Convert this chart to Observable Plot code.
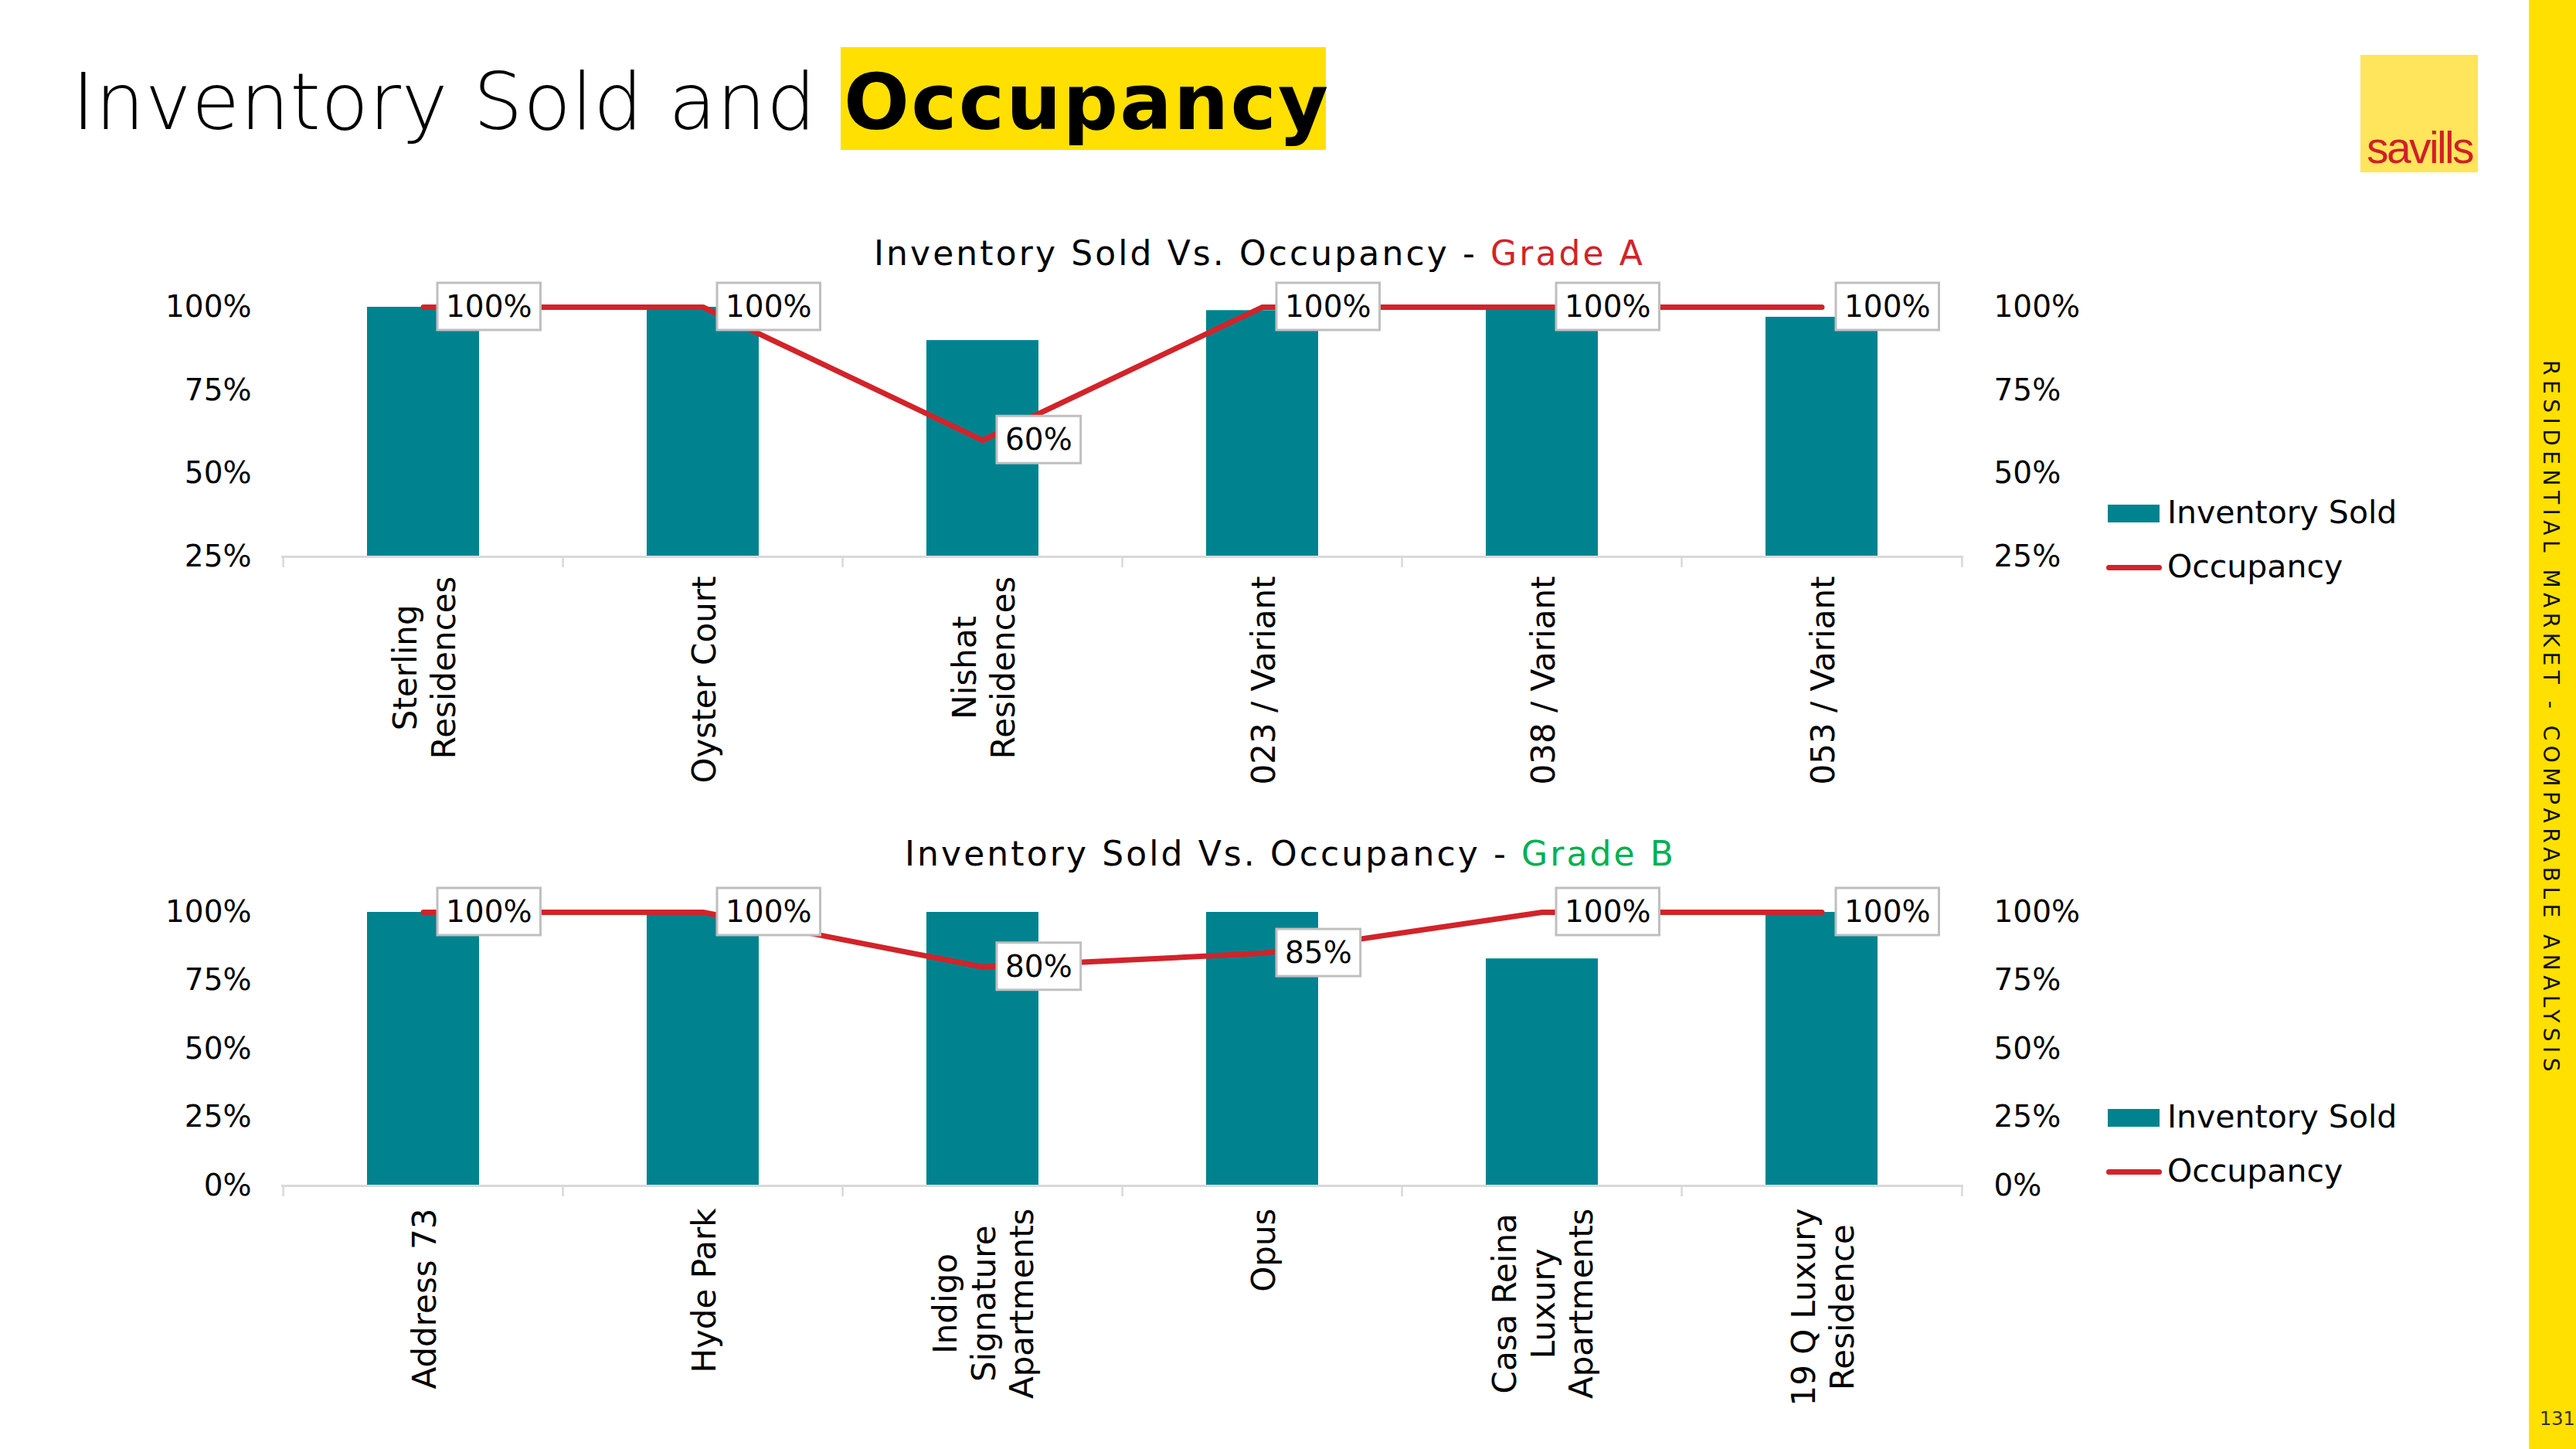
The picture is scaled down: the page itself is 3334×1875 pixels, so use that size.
<!DOCTYPE html>
<html>
<head>
<meta charset="utf-8">
<script src="https://cdn.jsdelivr.net/npm/d3@7"></script>
<script src="https://cdn.jsdelivr.net/npm/@observablehq/plot@0.6"></script>
<style>
  html, body { margin: 0; padding: 0; background: #fff; }
  body { width: 3334px; height: 1875px; position: relative; overflow: hidden; font-family: "DejaVu Sans", sans-serif; color: #000; }
  .abs { position: absolute; white-space: nowrap; }
  .chart { position: absolute; left: 0; }
  .chart svg { overflow: visible; display: block; }
</style>
</head>
<body>
<script>
// ---------- data ----------
const gradeACategories = ["Sterling\nResidences", "Oyster Court", "Nishat\nResidences", "023 / Variant", "038 / Variant", "053 / Variant"];
const gradeAInventorySold = [100, 100, 90, 99, 100, 97];
const gradeAOccupancy = [100, 100, 60, 100, 100, 100];
const gradeATicks = [25, 50, 75, 100];

const gradeBCategories = ["Address 73", "Hyde Park", "Indigo\nSignature\nApartments", "Opus", "Casa Reina\nLuxury\nApartments", "19 Q Luxury\nResidence"];
const gradeBInventorySold = [100, 100, 100, 100, 83, 100];
const gradeBOccupancy = [100, 100, 80, 85, 100, 100];
const gradeBTicks = [0, 25, 50, 75, 100];

const seriesNames = ["Inventory Sold", "Occupancy"];
const pageTitle = ["Inventory Sold and ", "Occupancy"];
const chartTitleBase = "Inventory Sold Vs. Occupancy - ";
const gradeNames = ["Grade A", "Grade B"];
const sideText = "RESIDENTIAL MARKET - COMPARABLE ANALYSIS";
const pageNumber = "131";

// ---------- style ----------
const TEAL = "#00838F";
const RED = "#D2232A";
const YELLOW = "#FFE000";
const DV = {family: '"DejaVu Sans", sans-serif', asc: 0.928, desc: 0.236};
const LS = {family: '"Liberation Sans", Arial, sans-serif', asc: 0.905, desc: 0.212};

function placeText(parts, {x, baseline, size, font = DV, weight = 400, spacing = 0, color = "#000"}) {
  const d = document.createElement("div");
  d.className = "abs";
  d.style.left = x + "px";
  d.style.top = (baseline - font.asc * size) + "px";
  d.style.fontFamily = font.family;
  d.style.fontSize = size + "px";
  d.style.lineHeight = (font.asc + font.desc) + "em";
  d.style.fontWeight = weight;
  d.style.letterSpacing = spacing + "px";
  d.style.color = color;
  for (const p of parts) {
    const s = document.createElement("span");
    s.textContent = p.text;
    if (p.color) s.style.color = p.color;
    if (p.weight) s.style.fontWeight = p.weight;
    d.appendChild(s);
  }
  document.body.appendChild(d);
  return d;
}
function box(x, y, w, h, color) {
  const d = document.createElement("div");
  d.className = "abs";
  Object.assign(d.style, {left: x + "px", top: y + "px", width: w + "px", height: h + "px", background: color});
  document.body.appendChild(d);
  return d;
}

// ---------- page decoration ----------
box(3273, 0, 61, 1875, YELLOW);
box(1088, 61, 628, 133, YELLOW);
placeText([{text: pageTitle[0]}], {x: 93, baseline: 168, size: 101, weight: 200, spacing: 0.5});
placeText([{text: pageTitle[1]}], {x: 1092, baseline: 168, size: 100, weight: 700, spacing: 2.2});

// savills logo
box(3055, 71, 152, 152, "#FFE55B");
placeText([{text: "savills"}], {x: 3063, baseline: 212, size: 57, font: LS, spacing: -2.6, color: "#CF2027"});

// side text
{
  const d = document.createElement("div");
  d.className = "abs";
  Object.assign(d.style, {left: "3284px", top: "466px", writingMode: "vertical-rl", fontFamily: DV.family,
    fontSize: "28px", lineHeight: "1.164em", letterSpacing: "6.5px", color: "#111"});
  d.textContent = sideText;
  document.body.appendChild(d);
}
placeText([{text: pageNumber}], {x: 3287, baseline: 1845, size: 24, color: "#333"});

// ---------- charts ----------
function legend(top) {
  box(2728, top, 67, 23, TEAL);
  placeText([{text: seriesNames[0]}], {x: 2805, baseline: top + 25, size: 41});
  const l = box(2726, top + 78, 72, 7, RED);
  l.style.borderRadius = "4px";
  placeText([{text: seriesNames[1]}], {x: 2805, baseline: top + 95, size: 41});
}

function drawChart({cats, sold, occ, domain, ticks, top, height, marginTop, marginBottom, labelPad}) {
  const width = 2700, marginLeft = 364, marginRight = width - 2541;
  const rows = cats.map((c, i) => ({cat: c, sold: sold[i], occ: occ[i]}));
  const step = (width - marginLeft - marginRight) / cats.length;
  const pct = d => d + "%";
  const chart = Plot.plot({
    width, height, marginLeft, marginRight, marginTop, marginBottom,
    style: {fontFamily: DV.family, fontSize: "39px", color: "#000", background: "transparent", overflow: "visible"},
    x: {type: "band", domain: cats, paddingInner: 0.6, paddingOuter: 0.3, label: null},
    y: {domain, label: null},
    marks: [
      Plot.barY(rows, {x: "cat", y1: domain[0], y2: "sold", fill: TEAL}),
      Plot.ruleY([domain[0]], {stroke: "#D9D9D9", strokeWidth: 3}),
      Plot.axisX({tickSize: 14, tickFormat: () => "", dx: -step / 2, stroke: "#D9D9D9", strokeWidth: 2.5, label: null}),
      Plot.axisX([cats[cats.length - 1]], {tickSize: 14, tickFormat: () => "", dx: step / 2, stroke: "#D9D9D9", strokeWidth: 2.5, label: null}),
      Plot.axisX({tickSize: 0, tickPadding: labelPad, tickRotate: -90, fontSize: 42, lineHeight: 1.18, label: null}),
      Plot.axisY({anchor: "left", ticks, tickSize: 0, tickPadding: 39, tickFormat: pct, label: null}),
      Plot.axisY({anchor: "right", ticks, tickSize: 0, tickPadding: 39, tickFormat: pct, label: null}),
      Plot.line(rows, {x: "cat", y: "occ", stroke: RED, strokeWidth: 7}),
      Plot.text(rows, {x: "cat", y: "occ", text: d => pct(d.occ), textAnchor: "start", dx: 29, fontSize: 39, fill: "#000"})
    ]
  });
  const wrap = document.createElement("div");
  wrap.className = "chart";
  wrap.style.top = top + "px";
  wrap.appendChild(chart);
  document.body.appendChild(wrap);

  const svg = d3.select(chart);
  // centre multi-line category labels like the spreadsheet does
  svg.selectAll('g[aria-label="x-axis tick label"] text').each(function () {
    const spans = d3.select(this).selectAll("tspan");
    if (spans.size() < 2) return;
    let w = 0;
    spans.each(function () { w = Math.max(w, this.getComputedTextLength()); });
    d3.select(this).attr("text-anchor", "middle");
    spans.attr("x", -w / 2);
  });
  // boxed data labels
  svg.selectAll('g[aria-label="text"] text').each(function () {
    const b = this.getBBox();
    const r = d3.select(this.parentNode).insert("rect", () => this)
      .attr("x", b.x - 11).attr("y", b.y - 8)
      .attr("width", b.width + 22).attr("height", b.height + 16)
      .attr("fill", "#fff").attr("stroke", "#BFBFBF").attr("stroke-width", 3);
    const t = this.getAttribute("transform");
    if (t) r.attr("transform", t);
  });
}

// Grade A
placeText([{text: chartTitleBase}, {text: gradeNames[0], color: "#D2232A"}], {x: 1131, baseline: 343, size: 44, spacing: 3.1});
drawChart({cats: gradeACategories, sold: gradeAInventorySold, occ: gradeAOccupancy, domain: [25, 100], ticks: gradeATicks,
  top: 350, height: 690, marginTop: 47, marginBottom: 320, labelPad: 25});
legend(653);

// Grade B
placeText([{text: chartTitleBase}, {text: gradeNames[1], color: "#00B050"}], {x: 1171, baseline: 1120, size: 44, spacing: 3.1});
drawChart({cats: gradeBCategories, sold: gradeBInventorySold, occ: gradeBOccupancy, domain: [0, 100], ticks: gradeBTicks,
  top: 1140, height: 720, marginTop: 40, marginBottom: 326, labelPad: 29});
legend(1435);
</script>
</body>
</html>
